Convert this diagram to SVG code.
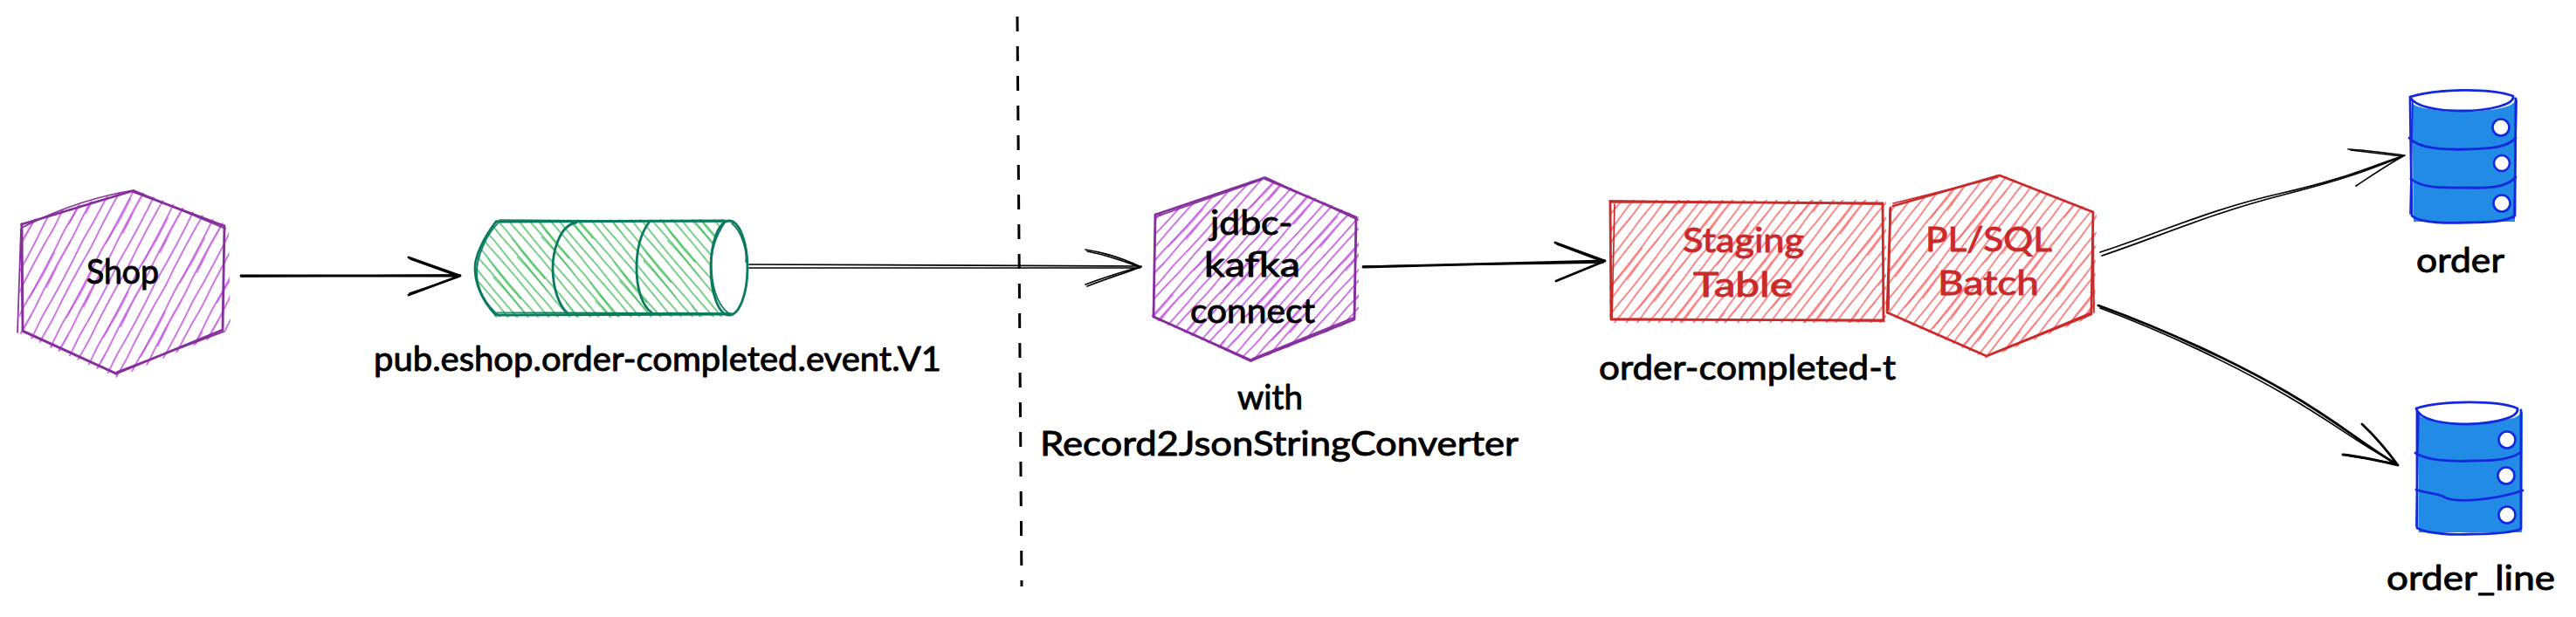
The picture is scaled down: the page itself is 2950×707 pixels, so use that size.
<svg xmlns="http://www.w3.org/2000/svg" width="2950" height="707" viewBox="0 0 2950 707">
<style>
.sk{fill:none;stroke-linecap:round;stroke-linejoin:round;stroke-width:2.8}
.thin{stroke-width:1.7}
.pu{stroke:#862e9c}.gr{stroke:#0b7b5e}.re{stroke:#c92a2a}.bl{stroke:#1328dc}.bk{stroke:#000}
.t{font-family:"Lato","Open Sans",sans-serif;font-size:38px;fill:#000;stroke:#000;stroke-width:.9;stroke-linejoin:round}
.tr{fill:#c92a2a;stroke:#c92a2a}
.dbf{fill:#228be6}
.hole{fill:#fff;stroke:#1328dc;stroke-width:2.6}
</style>
<defs>
<pattern id="hp1" patternUnits="userSpaceOnUse" width="96" height="48" patternTransform="translate(20 20) rotate(-62)">
<path d="M0 6Q48 4 96 6M0 18Q48 20 96 18M0 30Q48 28 96 30M0 42Q48 44 96 42" fill="none" stroke="#be4bdb" stroke-width="1.6"/>
<path d="M10 19Q40 21 70 20M30 31Q60 29 90 30" fill="none" stroke="#be4bdb" stroke-width="1"/>
</pattern>
<pattern id="hp2" patternUnits="userSpaceOnUse" width="96" height="40" patternTransform="translate(7 3) rotate(-48)">
<path d="M0 5Q48 3 96 5M0 15Q48 17 96 15M0 25Q48 23 96 25M0 35Q48 37 96 35" fill="none" stroke="#be4bdb" stroke-width="1.6"/>
<path d="M10 16Q40 18 70 17M30 26Q60 24 90 25" fill="none" stroke="#be4bdb" stroke-width="1"/>
</pattern>
<pattern id="hr" patternUnits="userSpaceOnUse" width="96" height="40" patternTransform="rotate(-52)">
<path d="M0 5Q48 3 96 5M0 15Q48 17 96 15M0 25Q48 23 96 25M0 35Q48 37 96 35" fill="none" stroke="#fa6464" stroke-width="1.6"/>
<path d="M10 16Q40 18 70 17M30 26Q60 24 90 25" fill="none" stroke="#fa6464" stroke-width="1"/>
</pattern>
<pattern id="hg" patternUnits="userSpaceOnUse" width="96" height="36" patternTransform="rotate(50)">
<path d="M0 4.500Q48 2.500 96 4.500M0 13.500Q48 15.500 96 13.500M0 22.500Q48 20.500 96 22.500M0 31.500Q48 33.500 96 31.500" fill="none" stroke="#4fbf65" stroke-width="1.7"/>
<path d="M10 14.500Q40 16.500 70 15.500M30 23.500Q60 21.500 90 22.500" fill="none" stroke="#4fbf65" stroke-width="1.1"/>
</pattern>
</defs>

<g id="divider"><path d="M1165 19L1170 672" fill="none" stroke="#000" stroke-width="3" stroke-dasharray="17 17"/></g>

<g id="shop">
<path d="M151 216L262 258L264 378L134 433L22 382L23 256Z" fill="url(#hp1)"/>
<path class="sk pu" d="M25 257L151 219L257 259M257 259L255 378L133 428L26 379L25 257"/>
<path class="sk pu thin" d="M27 260C70 238 110 225 153 218L258 262M256 380L134 426M20 381L24 262L26 380L134 429"/>
<text class="t" x="99" y="325" textLength="83" lengthAdjust="spacingAndGlyphs">Shop</text>
</g>

<g id="topic">
<path d="M568 252L838 251A21 55 0 0 0 816 330Q816 350 836 363L568 364C552 345 543 325 543 307C543 295 552 275 568 252Z" fill="url(#hg)"/>
<path class="sk gr" d="M568 254L830 253M570 361L835 360M568 254C552 275 544 295 544 307C544 325 552 345 568 361"/>
<path class="sk gr thin" d="M572 252L832 254M566 358L838 359M570 256C556 270 546 295 546 312C546 330 556 350 572 362"/>
<ellipse class="sk gr" cx="835" cy="307" rx="21" ry="54"/>
<path class="sk gr thin" d="M830 255C820 270 813 290 815 310C816 335 825 355 838 361M838 256C850 265 856 290 854 300"/>
<path class="sk gr" d="M660 255C640 258 633 290 633 307C633 330 640 350 650 359M743 255C732 270 729 290 729 307C729 330 735 350 746 358"/>
<text class="t" x="428" y="425" textLength="650" lengthAdjust="spacingAndGlyphs">pub.eshop.order-completed.event.V1</text>
</g>

<g id="jdbc">
<path d="M1447 202L1556 248L1556 366L1433 415L1320 365L1322 246Z" fill="url(#hp2)"/>
<path class="sk pu" d="M1323 246L1447 204L1553 249L1551 366L1433 413L1321 363L1323 246"/>
<path class="sk pu thin" d="M1325 248L1445 206M1449 203L1555 252M1553 252L1551 364M1320 362L1432 414M1434 411L1550 364"/>
<text class="t" x="1386" y="269" textLength="94" lengthAdjust="spacingAndGlyphs">jdbc-</text>
<text class="t" x="1379" y="317" textLength="110" lengthAdjust="spacingAndGlyphs">kafka</text>
<text class="t" x="1363" y="370" textLength="143" lengthAdjust="spacingAndGlyphs">connect</text>
<text class="t" x="1417" y="469" textLength="75" lengthAdjust="spacingAndGlyphs">with</text>
<text class="t" x="1191" y="522" textLength="548" lengthAdjust="spacingAndGlyphs">Record2JsonStringConverter</text>
</g>

<g id="staging">
<rect x="1843" y="229" width="317" height="141" fill="url(#hr)"/>
<path class="sk re" d="M1844 231L2156 233L2157 367L1845 366L1844 231"/>
<path class="sk re thin" d="M1849 234L1846 365L2158 368M1843 230L2155 234"/>
<text class="t tr" x="1927" y="289" textLength="139" lengthAdjust="spacingAndGlyphs">Staging</text>
<text class="t tr" x="1939" y="340" textLength="114" lengthAdjust="spacingAndGlyphs">Table</text>
<text class="t" x="1831" y="435" textLength="340" lengthAdjust="spacingAndGlyphs">order-completed-t</text>
</g>

<g id="batch">
<path d="M2290 199L2401 243L2399 362L2275 411L2161 360L2165 237Z" fill="url(#hr)"/>
<path class="sk re" d="M2168 236L2290 201L2397 243L2395 360L2275 408L2161 358L2165 238"/>
<path class="sk re thin" d="M2168 233L2288 203M2397 246L2398 358M2164 240L2163 355M2395 358L2280 406"/>
<text class="t tr" x="2205" y="288" textLength="145" lengthAdjust="spacingAndGlyphs">PL/SQL</text>
<text class="t tr" x="2219" y="338" textLength="116" lengthAdjust="spacingAndGlyphs">Batch</text>
</g>

<g id="order">
<path class="dbf" d="M2762 112L2880 112L2880 254L2764 254Z"/>
<ellipse cx="2820" cy="115" rx="60" ry="13" fill="#fff"/>
<path class="sk bl" d="M2760 111C2790 102 2850 100 2878 110C2880 120 2850 127 2820 127C2790 127 2765 122 2760 111M2760 113L2762 247C2770 255 2800 256 2825 255C2850 255 2870 254 2880 247L2881 113"/>
<path class="sk bl" d="M2759 158C2770 170 2800 172 2825 171C2850 170 2870 170 2881 158M2761 205C2775 217 2805 215 2825 215C2850 216 2870 215 2881 203"/>
<path class="sk bl thin" d="M2763 115L2760 245M2882 115L2879 250"/>
<circle class="hole" cx="2864" cy="146" r="9.500"/><circle class="hole" cx="2865" cy="187" r="9"/><circle class="hole" cx="2865" cy="233" r="9.500"/>
<text class="t" x="2767" y="312" textLength="101" lengthAdjust="spacingAndGlyphs">order</text>
</g>

<g id="order_line">
<path class="dbf" d="M2770 468L2889 472L2888 610L2770 610Z"/>
<ellipse cx="2827" cy="472" rx="60" ry="13" fill="#fff"/>
<path class="sk bl" d="M2767 468C2795 459 2860 458 2883 468C2885 478 2860 485 2825 486C2795 486 2770 480 2767 468M2768 470L2768 605C2780 612 2810 613 2830 612C2855 612 2875 611 2887 606L2887 470"/>
<path class="sk bl" d="M2766 519C2780 528 2805 529 2830 528C2855 528 2875 527 2887 518M2767 561C2780 566 2790 564 2800 570C2815 577 2860 572 2889 562"/>
<path class="sk bl thin" d="M2770 472L2767 603"/>
<circle class="hole" cx="2871" cy="504" r="9.500"/><circle class="hole" cx="2870" cy="545" r="9.500"/><circle class="hole" cx="2871" cy="590" r="9.500"/>
<text class="t" x="2733" y="676" textLength="193" lengthAdjust="spacingAndGlyphs">order_line</text>
</g>

<g id="connectors">
<path class="sk bk" d="M276 316L527 316M468 295L527 316L468 338"/>
<path class="sk bk thin" d="M276 317L527 315M470 297L526 317L469 336"/>
<path class="sk bk thin" d="M858 303L1307 305M1243 286C1270 290 1290 298 1307 306C1290 312 1265 320 1245 328"/>
<path class="sk bk thin" d="M858 307L1305 307M1245 288C1270 293 1290 300 1305 306C1290 310 1265 318 1243 326"/>
<path class="sk bk" d="M1561 306L1838 299M1781 278L1838 299L1782 322"/>
<path class="sk bk thin" d="M1561 305L1836 301M1783 280L1836 300"/>
<path class="sk bk thin" d="M2405 289C2470 268 2530 240 2610 222S2710 192 2754 178M2689 171C2710 172 2730 175 2754 178C2735 188 2715 202 2698 213"/>
<path class="sk bk thin" d="M2407 293C2470 272 2530 245 2612 224S2710 195 2750 180M2692 172L2750 179"/>
<path class="sk bk" d="M2403 350C2480 378 2560 415 2620 450S2700 505 2746 533M2705 486C2720 500 2735 518 2746 533C2725 528 2705 523 2683 521"/>
<path class="sk bk thin" d="M2405 353C2480 381 2558 418 2618 453S2700 508 2744 531M2687 522L2744 531"/>
</g>
</svg>
